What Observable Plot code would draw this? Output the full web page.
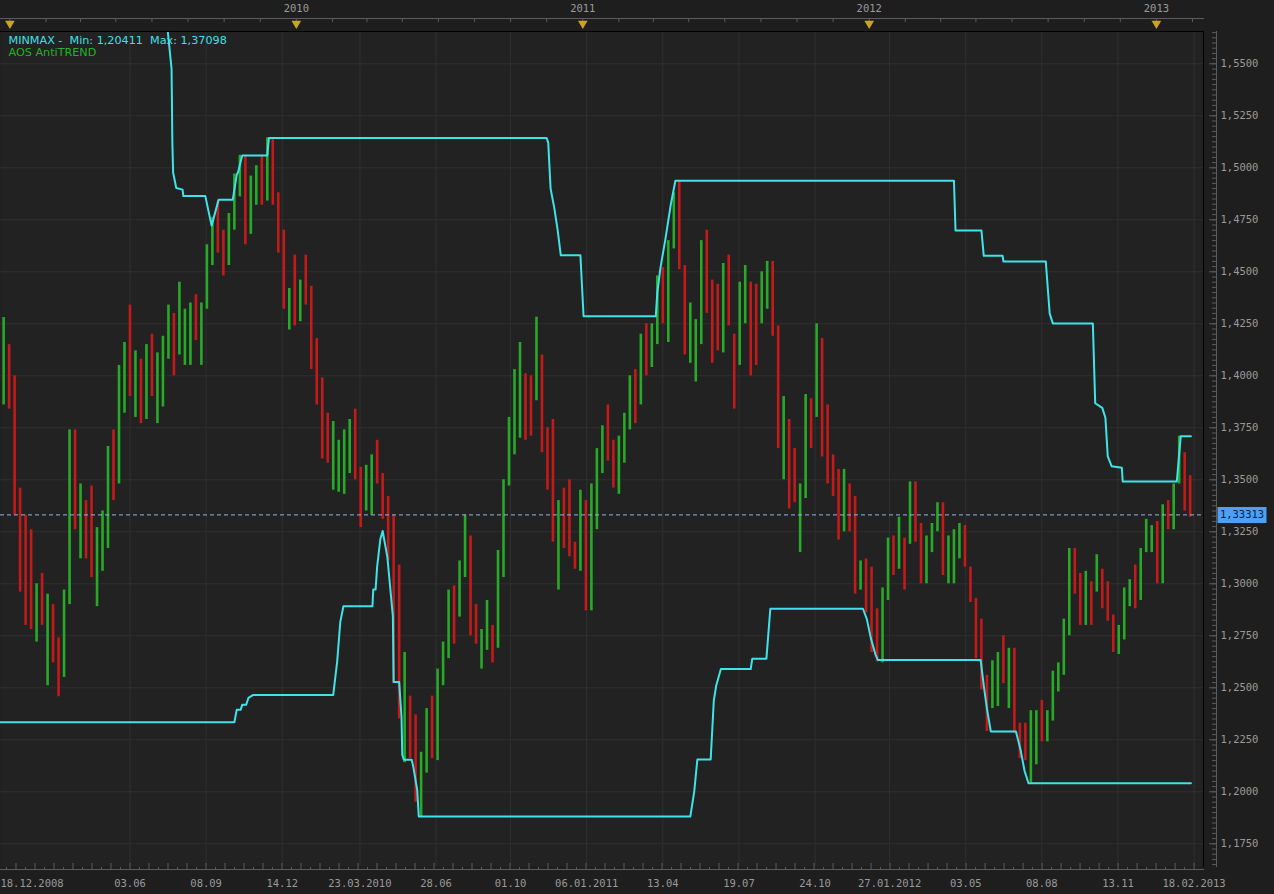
<!DOCTYPE html>
<html><head><meta charset="utf-8">
<script src="https://cdn.jsdelivr.net/npm/d3@7"></script>
<script src="https://cdn.jsdelivr.net/npm/@observablehq/plot@0.6"></script>
<style>
html,body{margin:0;padding:0;background:#1e1e1e;overflow:hidden;}
#chart{width:1274px;height:894px;}
</style></head><body><div id="chart"></div>
<script>
// ---- Weekly price bars (week midpoints, Wednesdays, starting 2008-12-17) ----
const firstWeek = "2008-12-17";
const firstOpen = 1.4650;
const high = [1.4720,1.4280,1.4150,1.4000,1.3460,1.3330,1.3260,1.3000,1.3050,1.2950,1.2900,1.2740,1.2970,1.3740,1.3740,1.3480,1.3400,1.3470,1.3270,1.3350,
1.3660,1.3740,1.4050,1.4160,1.4340,1.4120,1.4080,1.4150,1.4200,1.4110,1.4190,1.4340,1.4300,1.4450,1.4320,1.4350,1.4390,1.4350,1.4630,1.4760,
1.4840,1.4700,1.4780,1.4970,1.5060,1.5060,1.4960,1.5010,1.5060,1.5144,1.5140,1.4880,1.4700,1.4420,1.4580,1.4460,1.4580,1.4430,1.4180,1.3990,
1.3820,1.3780,1.3690,1.3740,1.3790,1.3840,1.3560,1.3570,1.3620,1.3690,1.3530,1.3420,1.3330,1.3090,1.2670,1.2460,1.2370,1.2190,1.2400,1.2460,
1.2590,1.2720,1.2970,1.2990,1.3110,1.3330,1.3230,1.2900,1.2780,1.2920,1.2800,1.3160,1.3500,1.3800,1.4030,1.4160,1.4010,1.4000,1.4282,1.4100,
1.3750,1.3790,1.3400,1.3460,1.3500,1.3200,1.3450,1.3400,1.3480,1.3650,1.3760,1.3860,1.3690,1.3710,1.3820,1.4000,1.4030,1.4200,1.4250,1.4250,
1.4480,1.4520,1.4650,1.4880,1.4940,1.4530,1.4350,1.4270,1.4650,1.4700,1.4460,1.4440,1.4540,1.4580,1.4200,1.4450,1.4530,1.4450,1.4440,1.4500,
1.4550,1.4550,1.4240,1.3900,1.3790,1.3650,1.3480,1.3910,1.3890,1.4250,1.4180,1.3860,1.3620,1.3550,1.3550,1.3480,1.3420,1.3110,1.3120,1.3080,
1.2880,1.2980,1.3220,1.3230,1.3320,1.3220,1.3490,1.3490,1.3290,1.3230,1.3290,1.3390,1.3390,1.3230,1.3260,1.3290,1.3280,1.3080,1.2930,1.2830,
1.2560,1.2630,1.2670,1.2750,1.2690,1.2690,1.2330,1.2330,1.2390,1.2390,1.2440,1.2390,1.2580,1.2620,1.2830,1.3170,1.3170,1.3050,1.3060,1.3010,
1.3140,1.3070,1.3010,1.2850,1.2800,1.2980,1.3020,1.3090,1.3170,1.3310,1.3280,1.3300,1.3380,1.3400,1.3480,1.3710,1.3630,1.3520];
const low = [1.3850,1.3860,1.3840,1.3330,1.2960,1.2800,1.2780,1.2720,1.2800,1.2510,1.2620,1.2457,1.2550,1.2900,1.3260,1.3120,1.3120,1.3030,1.2890,1.3060,
1.3170,1.3400,1.3480,1.3820,1.3900,1.3800,1.3770,1.3790,1.3900,1.3770,1.3850,1.4080,1.4000,1.4100,1.4050,1.4050,1.4170,1.4050,1.4320,1.4530,
1.4590,1.4480,1.4530,1.4700,1.4860,1.4630,1.4680,1.4820,1.4820,1.4840,1.4820,1.4590,1.4320,1.4220,1.4240,1.4260,1.4340,1.4030,1.3860,1.3600,
1.3580,1.3450,1.3440,1.3430,1.3530,1.3500,1.3270,1.3350,1.3330,1.3480,1.3310,1.3110,1.2520,1.2350,1.2140,1.2160,1.1950,1.1876,1.2090,1.2160,
1.2150,1.2510,1.2640,1.2710,1.2840,1.3030,1.2750,1.2710,1.2590,1.2680,1.2620,1.2690,1.3030,1.3470,1.3620,1.3700,1.3690,1.3710,1.3880,1.3630,
1.3450,1.3200,1.2970,1.3170,1.3130,1.3070,1.3060,1.2870,1.2870,1.3260,1.3530,1.3590,1.3460,1.3430,1.3580,1.3740,1.3770,1.3860,1.4000,1.4040,
1.4150,1.4250,1.4160,1.4610,1.4510,1.4100,1.4060,1.3970,1.4150,1.4300,1.4060,1.4120,1.4110,1.4240,1.3840,1.4050,1.4250,1.4000,1.4050,1.4250,
1.4320,1.4190,1.3650,1.3500,1.3360,1.3390,1.3150,1.3410,1.3650,1.3800,1.3610,1.3480,1.3420,1.3210,1.3250,1.3250,1.2950,1.2970,1.2860,1.2670,
1.2624,1.2620,1.2920,1.3040,1.3070,1.2970,1.3190,1.3200,1.3000,1.3000,1.3150,1.3250,1.3040,1.3000,1.3000,1.3120,1.3080,1.2910,1.2640,1.2490,
1.2290,1.2400,1.2410,1.2520,1.2400,1.2280,1.2160,1.2150,1.2042,1.2130,1.2240,1.2240,1.2340,1.2480,1.2560,1.2750,1.2950,1.2800,1.2800,1.2800,
1.2960,1.2880,1.2820,1.2670,1.2660,1.2730,1.2890,1.2880,1.2920,1.3150,1.3150,1.3000,1.3000,1.3260,1.3260,1.3480,1.3350,1.3320];
const close = [1.3900,1.4030,1.3920,1.3430,1.3230,1.2980,1.2800,1.2950,1.2880,1.2880,1.2680,1.2650,1.2930,1.3590,1.3280,1.3480,1.3200,1.3070,1.3240,1.3270,
1.3630,1.3510,1.3990,1.4150,1.3950,1.4000,1.3950,1.4050,1.3950,1.3950,1.4100,1.4200,1.4100,1.4180,1.4180,1.4330,1.4320,1.4340,1.4570,1.4700,
1.4670,1.4560,1.4720,1.4900,1.5010,1.4730,1.4850,1.4890,1.4870,1.4980,1.4850,1.4620,1.4340,1.4380,1.4320,1.4410,1.4380,1.4130,1.3870,1.3630,
1.3620,1.3620,1.3620,1.3630,1.3770,1.3520,1.3420,1.3500,1.3600,1.3500,1.3380,1.3290,1.2750,1.2390,1.2570,1.2260,1.1970,1.2140,1.2380,1.2370,
1.2560,1.2640,1.2940,1.2890,1.3050,1.3280,1.2750,1.2710,1.2760,1.2900,1.2730,1.3050,1.3490,1.3790,1.3940,1.3990,1.3950,1.3940,1.4040,1.3700,
1.3670,1.3240,1.3400,1.3230,1.3220,1.3100,1.3380,1.2910,1.3380,1.3620,1.3690,1.3590,1.3490,1.3700,1.3750,1.4000,1.3900,1.4180,1.4090,1.4230,
1.4470,1.4430,1.4600,1.4810,1.4540,1.4120,1.4150,1.4150,1.4640,1.4350,1.4300,1.4200,1.4500,1.4250,1.4150,1.4380,1.4400,1.4280,1.4250,1.4380,
1.4490,1.4200,1.3650,1.3790,1.3500,1.3390,1.3400,1.3880,1.3780,1.4150,1.3770,1.3750,1.3520,1.3250,1.3450,1.3380,1.3040,1.3050,1.2940,1.2720,
1.2680,1.2930,1.3210,1.3150,1.3200,1.3150,1.3450,1.3210,1.3120,1.3180,1.3270,1.3340,1.3090,1.3150,1.3220,1.3240,1.3090,1.2920,1.2780,1.2510,
1.2420,1.2520,1.2640,1.2570,1.2670,1.2290,1.2250,1.2150,1.2320,1.2380,1.2290,1.2330,1.2520,1.2580,1.2820,1.3130,1.2980,1.2860,1.3040,1.2950,
1.3020,1.2940,1.2830,1.2710,1.2730,1.2970,1.2980,1.2930,1.3160,1.3190,1.3220,1.3070,1.3370,1.3320,1.3460,1.3640,1.3360,1.33313];

// ---- MINMAX channel (upper = highest high, lower = lowest low) ----
const upperDates = ["2008-12-18","2009-07-18","2009-07-20","2009-07-26","2009-07-27","2009-07-28","2009-08-01","2009-08-09","2009-08-10","2009-09-07","2009-09-15","2009-09-24","2009-10-12","2009-10-17","2009-10-19","2009-10-24","2009-11-25","2009-11-27","2010-11-16","2010-11-18","2010-11-21","2010-11-26","2010-11-30","2010-12-04","2010-12-29","2011-01-02","2011-04-04","2011-04-06","2011-04-10","2011-04-16","2011-04-23","2011-04-29","2012-04-18","2012-04-20","2012-05-23","2012-05-26","2012-06-19","2012-06-20","2012-08-13","2012-08-18","2012-08-22","2012-10-12","2012-10-15","2012-10-24","2012-10-28","2012-10-31","2012-11-05","2012-11-18","2012-11-19","2013-01-27","2013-02-01","2013-02-14"];
const upperValues = [1.6038,1.6038,1.570,1.5475,1.512,1.4976,1.4903,1.4895,1.4864,1.4864,1.4722,1.4847,1.4847,1.4966,1.4982,1.5059,1.5059,1.5143,1.5143,1.512,1.490,1.480,1.470,1.4579,1.4579,1.4286,1.4286,1.440,1.452,1.465,1.482,1.4938,1.4938,1.4699,1.4699,1.4577,1.4577,1.4550,1.4550,1.4299,1.4252,1.4252,1.3868,1.3846,1.3798,1.3613,1.3565,1.3558,1.3492,1.3492,1.37098,1.37098];
const lowerDates = ["2008-12-18","2009-10-14","2009-10-17","2009-10-22","2009-10-24","2009-10-29","2009-11-01","2009-11-07","2010-02-17","2010-02-22","2010-02-26","2010-03-02","2010-04-08","2010-04-09","2010-04-12","2010-04-14","2010-04-18","2010-04-21","2010-04-27","2010-05-04","2010-05-05","2010-05-12","2010-05-15","2010-05-16","2010-05-18","2010-05-28","2010-05-30","2010-06-04","2010-06-06","2011-05-18","2011-05-23","2011-05-27","2011-06-13","2011-06-17","2011-06-20","2011-06-26","2011-08-03","2011-08-05","2011-08-23","2011-08-28","2011-12-24","2011-12-29","2012-01-03","2012-01-09","2012-01-12","2012-05-22","2012-05-26","2012-05-30","2012-06-04","2012-07-06","2012-07-12","2012-07-17","2012-07-22","2013-02-14"];
const lowerValues = [1.2334,1.2334,1.2394,1.2394,1.2418,1.2418,1.2452,1.2466,1.2466,1.2625,1.2817,1.2892,1.2892,1.2973,1.2973,1.3084,1.3214,1.3254,1.3128,1.2845,1.2528,1.2528,1.2361,1.2178,1.2154,1.2154,1.2121,1.2010,1.1881,1.1881,1.2000,1.2155,1.2155,1.2440,1.2510,1.2590,1.2590,1.2640,1.2640,1.2880,1.2880,1.2830,1.2740,1.2660,1.2634,1.2634,1.2510,1.2400,1.2290,1.2290,1.2200,1.2100,1.20411,1.20411];

// ---- Axis labels ----
const bottomLabels = ["18.12.2008","03.06","08.09","14.12","23.03.2010","28.06","01.10","06.01.2011","13.04","19.07","24.10","27.01.2012","03.05","08.08","13.11","18.02.2013"];
const bottomLabelDates = ["2008-12-18","2009-06-03","2009-09-08","2009-12-14","2010-03-23","2010-06-28","2010-10-01","2011-01-06","2011-04-13","2011-07-19","2011-10-24","2012-01-27","2012-05-03","2012-08-08","2012-11-13","2013-02-18"];
const yearLabels = ["2010","2011","2012","2013"];
const yearMarkDates = ["2009-01-01","2010-01-01","2011-01-01","2012-01-01","2013-01-01"];
const yTickValues = [1.175,1.2,1.225,1.25,1.275,1.3,1.325,1.35,1.375,1.4,1.425,1.45,1.475,1.5,1.525,1.55];

// ---- build ----
const parse = d3.utcParse("%Y-%m-%d");
const bars = high.map((h, i) => ({
  date: d3.utcDay.offset(parse(firstWeek), 7 * i),
  high: h, low: low[i], close: close[i],
  open: i === 0 ? firstOpen : close[i - 1]
}));
const upper = upperDates.map((d, i) => ({date: parse(d), value: upperValues[i]}));
const lower = lowerDates.map((d, i) => ({date: parse(d), value: lowerValues[i]}));
const lastClose = close[close.length - 1];
const fmt4 = d => d.toFixed(4).replace(".", ",");
const fmt5 = d => d.toFixed(5).replace(".", ",");

const labelDates = bottomLabelDates.map(parse);
const yearDates = yearMarkDates.map(parse);
const xDomain = [parse("2008-12-20"), parse("2013-03-02")];

// minor ticks (style): top band every 1.5 months, bottom every 1/8 of label step
const topTicks = [];
for (let y = 2008; y <= 2013; y++) for (let m = 0; m < 12; m += 1.5) {
  const d = m % 1 ? new Date(Date.UTC(y, Math.floor(m), 16)) : new Date(Date.UTC(y, m, 1));
  if (d >= xDomain[0] && d <= xDomain[1]) topTicks.push(d);
}
const stepMs = (labelDates[labelDates.length - 1] - labelDates[1]) / ((labelDates.length - 2) * 8);
const botTall = [], botShort = [];
for (let k = -30; k < 200; k++) {
  const d = new Date(+labelDates[1] + k * stepMs);
  if (d < xDomain[0] || d > xDomain[1]) continue;
  (k % 2 === 0 ? botTall : botShort).push(d);
}
const minorY = d3.range(1.165, 1.5651, 0.0025);

const mono = "DejaVu Sans Mono";
const axisCol = "#9a9a9a";
const lineCol = "#5c5c5c";
const cyan = "#3fe3ea";
const rectSymbol = {draw(ctx) { ctx.rect(-24.5, -8, 49, 16); }};

const chart = Plot.plot({
  width: 1274, height: 894,
  marginTop: 31, marginBottom: 28, marginLeft: 0, marginRight: 71,
  style: {background: "#1e1e1e", color: axisCol, fontFamily: mono, fontSize: "10.5px", overflow: "visible"},
  x: {type: "utc", domain: xDomain},
  y: {domain: [1.16409, 1.56553]},
  marks: [
    Plot.frame({fill: "#222222", stroke: "none"}),
    Plot.ruleY(yTickValues, {stroke: "#303030"}),
    Plot.ruleX(labelDates.slice(1), {stroke: "#303030"}),
    Plot.ruleX(bars, {x: "date", y1: "low", y2: "high", strokeWidth: 2.6,
      stroke: d => d.close >= d.open ? "#27aa27" : "#c41a1a", clip: true}),
    Plot.line(upper, {x: "date", y: "value", stroke: cyan, strokeWidth: 2, clip: true}),
    Plot.line(lower, {x: "date", y: "value", stroke: cyan, strokeWidth: 2, clip: true}),
    Plot.ruleY([lastClose], {stroke: "#8fb6ee", strokeDasharray: "4,3", strokeWidth: 1}),
    Plot.frame({anchor: "top", stroke: "#000"}),
    Plot.frame({anchor: "right", stroke: "#000"}),
    // right axis
    Plot.frame({anchor: "right", stroke: lineCol, dx: 13}),
    Plot.axisY(minorY, {anchor: "right", tickSize: 5, dx: 8, fill: "none", stroke: lineCol, label: null}),
    Plot.axisY(yTickValues, {anchor: "right", tickSize: 8, dx: 5, fill: "none", stroke: lineCol, label: null}),
    Plot.axisY(yTickValues, {anchor: "right", tickSize: 0, tickPadding: 17, stroke: "none", fill: axisCol,
      tickFormat: fmt4, textAnchor: "start", label: null}),
    // top band
    Plot.frame({anchor: "top", stroke: lineCol, dy: -13}),
    Plot.axisX(topTicks, {anchor: "top", tickSize: 3, dy: -10, fill: "none", stroke: lineCol, label: null}),
    Plot.dot(yearDates, {x: d => d, frameAnchor: "top", dy: -8, symbol: "triangle", rotate: 180, r: 3.6,
      fill: "#c9a227", stroke: "none"}),
    Plot.text(yearLabels, {x: d => parse(d + "-01-01"), frameAnchor: "top", dy: -23, lineAnchor: "middle",
      text: d => d, fill: axisCol}),
    // bottom axis
    Plot.frame({anchor: "bottom", stroke: lineCol, dy: 3}),
    Plot.axisX(botTall, {anchor: "top", tickSize: 7, dy: 838, fill: "none", stroke: lineCol, label: null}),
    Plot.axisX(botShort, {anchor: "top", tickSize: 3, dy: 838, fill: "none", stroke: lineCol, label: null}),
    Plot.text(bottomLabels.slice(1), {x: (d, i) => labelDates[i + 1], frameAnchor: "bottom", dy: 17,
      lineAnchor: "middle", text: d => d, fill: axisCol}),
    Plot.text(bottomLabels.slice(0, 1), {x: () => labelDates[0], frameAnchor: "bottom", dy: 17, dx: 1.5,
      lineAnchor: "middle", text: d => d, textAnchor: "start", fill: axisCol}),
    // last price marker
    Plot.dot([lastClose], {y: d => d, frameAnchor: "right", dx: 38.5, symbol: rectSymbol, r: 5, fill: "#4f9ff2", stroke: "none"}),
    Plot.text([lastClose], {y: d => d, frameAnchor: "right", dx: 38.5, textAnchor: "middle", text: fmt5, fill: "#0c1d3c"}),
    // legend
    Plot.text([`MINMAX -\u00a0 Min: ${fmt5(lowerValues[lowerValues.length - 1])}\u00a0 Max: ${fmt5(upperValues[upperValues.length - 1])}`],
      {frameAnchor: "top-left", dx: 8, dy: 9, lineAnchor: "middle", text: d => d, textAnchor: "start",
       fill: "#3fe0e6", fontFamily: "DejaVu Sans", fontSize: 11.2}),
    Plot.text(["AOS AntiTREND"], {frameAnchor: "top-left", dx: 8, dy: 21, lineAnchor: "middle", text: d => d,
      textAnchor: "start", fill: "#26b026", fontFamily: "DejaVu Sans", fontSize: 11.2})
  ]
});
document.getElementById("chart").appendChild(chart);
</script></body></html>
